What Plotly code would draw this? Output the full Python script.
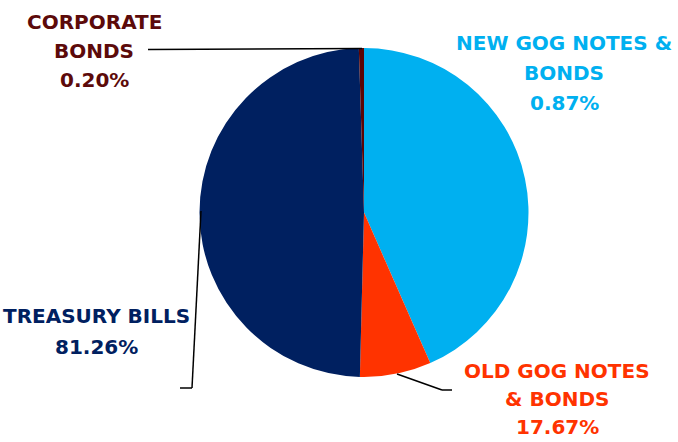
import plotly.graph_objects as go

W, H = 678, 442

# Data (slice shares as drawn, label texts as printed)
categories = ["NEW GOG NOTES &|BONDS", "OLD GOG NOTES|& BONDS", "TREASURY BILLS", "CORPORATE|BONDS"]
slice_shares = [43.4, 7.0, 49.1, 0.5]
label_pcts = ["0.87%", "17.67%", "81.26%", "0.20%"]
colors = ["#00B0F0", "#FF3300", "#002060", "#5C0505"]
text_colors = ["#00B0F0", "#FF3300", "#002060", "#5C0A0A"]


def px(x):
    return x / W


def py(y):
    return 1 - y / H


cx, cy, r = 364, 212.5, 164.5

fig = go.Figure()
fig.add_trace(go.Pie(
    labels=[c.replace("|", " ") for c in categories],
    values=slice_shares,
    sort=False,
    direction="clockwise",
    rotation=0,
    marker=dict(colors=colors, line=dict(width=0)),
    textinfo="none",
    hoverinfo="label+percent",
    showlegend=False,
    domain=dict(x=[px(cx - r), px(cx + r)], y=[py(cy + r), py(cy - r)]),
))

# label block positions: center x, first-line center y, line spacing
label_pos = [(564, 43, 30), (557, 371, 28), (96, 316, 31), (94, 22, 29)]
font_family = "DejaVu Sans"
for cat, pct, col, (lx, ly, sp) in zip(categories, label_pcts, text_colors, label_pos):
    lines = cat.split("|") + [pct]
    for i, ln in enumerate(lines):
        fig.add_annotation(
            x=px(lx), y=py(ly + i * sp), xref="paper", yref="paper",
            text=f"<b>{ln}</b>",
            showarrow=False, align="center", borderpad=0,
            font=dict(family=font_family, size=20, color=col),
            xanchor="center", yanchor="middle",
        )

# leader lines
leaders = [
    [(148, 49.5), (362, 48.5)],
    [(201, 211), (192, 388), (180, 388)],
    [(397, 374), (442, 390), (452, 390)],
]
for pts in leaders:
    for (x0, y0), (x1, y1) in zip(pts[:-1], pts[1:]):
        fig.add_shape(type="line", xref="paper", yref="paper",
                      x0=px(x0), y0=py(y0), x1=px(x1), y1=py(y1),
                      line=dict(color="black", width=1.5))

fig.update_layout(
    width=W, height=H,
    margin=dict(l=0, r=0, t=0, b=0),
    paper_bgcolor="white", plot_bgcolor="white",
)

fig.write_html("out.html")
